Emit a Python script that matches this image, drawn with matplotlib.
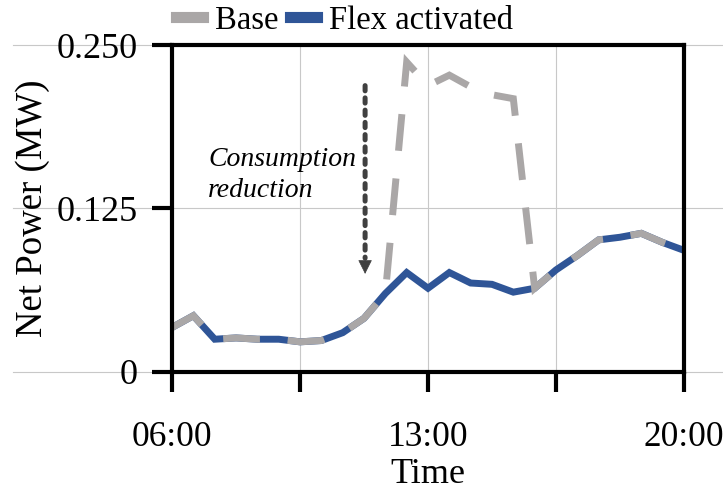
import matplotlib
matplotlib.use("Agg")
import matplotlib.pyplot as plt
from matplotlib.lines import Line2D

plt.rcParams['font.family'] = ['Liberation Serif', 'DejaVu Serif']

# 25 samples between 06:00 and 20:00
steps = list(range(25))
flex = [0.034, 0.043, 0.025, 0.026, 0.025, 0.025, 0.023, 0.024, 0.030, 0.041,
        0.060, 0.076, 0.064, 0.076, 0.068, 0.067, 0.061, 0.064, 0.078, 0.089,
        0.101, 0.103, 0.106, 0.099, 0.093]
base = [0.034, 0.043, 0.025, 0.026, 0.025, 0.025, 0.023, 0.024, 0.030, 0.041,
        0.060, 0.237, 0.219, 0.227, 0.218, 0.212, 0.209, 0.064, 0.078, 0.089,
        0.101, 0.103, 0.106, 0.099, 0.093]
xticks = [0, 6, 12, 18, 24]
xlabels = ['06:00', '', '13:00', '', '20:00']
yticks = [0, 0.125, 0.25]
ylabels = ['0', '0.125', '0.250']

gray = '#aaa7a7'
blue = '#2f5597'

fig = plt.figure(figsize=(7.23, 4.90), dpi=100)
ax = fig.add_axes([0.238, 0.241, 0.708, 0.667])

# horizontal guide lines run past the axes on both sides
for y in yticks:
    ax.axhline(y, xmin=-0.31, xmax=1.1, color='#c8c8c8', lw=0.8,
               clip_on=False, zorder=0)
for x in xticks[1:-1]:
    ax.axvline(x, color='#c8c8c8', lw=0.8, zorder=0)

ax.plot(steps, flex, color=blue, lw=5, solid_joinstyle='miter', zorder=3)
ax.plot(steps, base, color=gray, lw=5, dashes=(5.3, 4), dash_capstyle='butt',
        dash_joinstyle='miter', zorder=4)

ax.set_xlim(0, 24)
ax.set_ylim(0, 0.25)
ax.set_xticks(xticks)
ax.set_xticklabels(xlabels, fontsize=25.5)
ax.set_yticks(yticks)
ax.set_yticklabels(ylabels, fontsize=26)
ax.tick_params(axis='x', length=14.5, width=3, pad=21)
ax.tick_params(axis='y', length=14.5, width=3, pad=10)
for s in ax.spines.values():
    s.set_linewidth(3)
    s.set_zorder(5)

ax.set_xlabel('Time', fontsize=26, labelpad=3)
ax.set_ylabel('Net Power (MW)', fontsize=26.5, labelpad=5)

# dotted shaft + solid head
ax.annotate('', xy=(9.05, 0.087), xytext=(9.05, 0.219),
            arrowprops=dict(arrowstyle='-', color='#404040', lw=3.6,
                            linestyle=(0, (1.05, 1.4)), shrinkA=0, shrinkB=0),
            zorder=6)
ax.annotate('', xy=(9.05, 0.075), xytext=(9.05, 0.089),
            arrowprops=dict(arrowstyle='-|>,head_length=0.9,head_width=0.45',
                            color='#404040', lw=0.5, shrinkA=0, shrinkB=0),
            zorder=6)
ax.text(1.7, 0.172, 'Consumption\nreduction', fontsize=20, style='italic',
        ha='left', va='top', linespacing=1.3, zorder=6)

handles = [Line2D([0], [0], color=gray, lw=8),
           Line2D([0], [0], color=blue, lw=8)]
fig.legend(handles, ['Base', 'Flex activated'], loc='center',
           bbox_to_anchor=(0.476, 0.958), ncol=2, frameon=False, fontsize=23.5,
           handlelength=0.85, handletextpad=0.35, columnspacing=0.35,
           borderpad=0.1)

fig.savefig('out.png', dpi=100)
